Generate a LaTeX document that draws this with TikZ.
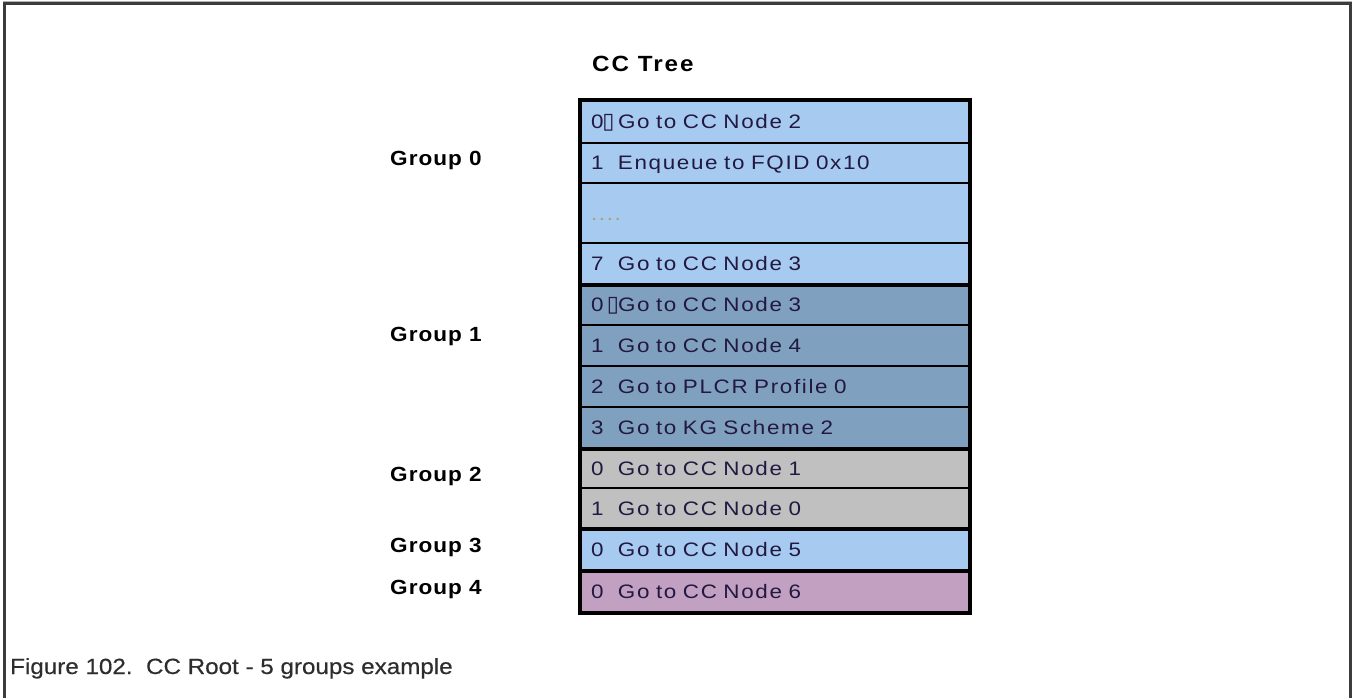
\documentclass[tikz,border=0pt]{standalone}
\usepackage{fontspec}
\setmainfont{Liberation Sans}
\newfontfamily\cellfont[LetterSpace=8.5,FakeStretch=1.15]{Liberation Sans}
\newfontfamily\grpfont[LetterSpace=5,FakeStretch=1.1]{Liberation Sans}
\newfontfamily\titfont[LetterSpace=9,FakeStretch=1.1]{Liberation Sans}
\newfontfamily\capfont[FakeStretch=1.1,FakeBold=0.4]{Liberation Sans}
\newfontfamily\symfont{DejaVu Sans}
\definecolor{lblue}{RGB}{166,202,240}
\definecolor{dblue}{RGB}{128,160,192}
\definecolor{lgray}{RGB}{192,192,192}
\definecolor{mauve}{RGB}{194,160,194}
\definecolor{txt}{RGB}{34,24,64}
\definecolor{frame}{RGB}{60,60,60}
\definecolor{capt}{RGB}{45,45,45}
\definecolor{dots}{RGB}{170,160,120}
\newcommand{\ent}[2]{\makebox[27pt][l]{#1}#2}
\newcommand{\miss}{{\symfont\fontsize{22}{22}\selectfont ▯}}
\begin{document}
\begin{tikzpicture}[x=1pt,y=-1pt,
  cell/.style={draw=black, line width=2, minimum width=388, inner xsep=10, inner ysep=0,
    text width=368, align=left, text height=14, text depth=0, text=txt,
    font=\cellfont\fontsize{19.5}{19.5}\selectfont},
  grp/.style={anchor=base west, inner sep=0, text=black, font=\grpfont\bfseries\fontsize{20.5}{20.5}\selectfont},
  outer/.style={draw=black, line width=4},
  gsep/.style={draw=black, line width=3}]
\useasboundingbox (0,0) rectangle (1352,698);
% frame
\draw[frame, line width=3] (4.5,698) -- (4.5,4) -- (1350.5,4) -- (1350.5,698);
\draw[gray!60, line width=1] (3,2) -- (1352,2);
% title
\node[anchor=base west, inner sep=0, font=\titfont\bfseries\fontsize{22}{22}\selectfont] (title) at (592,72) {CC Tree};
% cells
\node[cell, fill=lblue, minimum height=42] (r1) at (775,122) {\ent{0\kern-1pt\miss}{Go to CC Node 2}};
\node[cell, fill=lblue, minimum height=40] (r2) at (775,163) {\ent{1}{Enqueue to FQID 0x10}};
\node[cell, fill=lblue, minimum height=60] (r3) at (775,213) {\textcolor{dots}{....}};
\node[cell, fill=lblue, minimum height=41] (r4) at (775,263.5) {\ent{7}{Go to CC Node 3}};
\node[cell, fill=dblue, minimum height=41] (r5) at (775,304.5) {\ent{0\kern3.5pt\miss}{Go to CC Node 3}};
\node[cell, fill=dblue, minimum height=41] (r6) at (775,345.5) {\ent{1}{Go to CC Node 4}};
\node[cell, fill=dblue, minimum height=41] (r7) at (775,386.5) {\ent{2}{Go to PLCR Profile 0}};
\node[cell, fill=dblue, minimum height=41] (r8) at (775,427.5) {\ent{3}{Go to KG Scheme 2}};
\node[cell, fill=lgray, minimum height=40] (r9) at (775,468) {\ent{0}{Go to CC Node 1}};
\node[cell, fill=lgray, minimum height=40] (r10) at (775,508) {\ent{1}{Go to CC Node 0}};
\node[cell, fill=lblue, minimum height=42] (r11) at (775,549) {\ent{0}{Go to CC Node 5}};
\node[cell, fill=mauve, minimum height=42] (r12) at (775,591) {\ent{0}{Go to CC Node 6}};
% group separators and outline
\draw[gsep] (r4.south west) -- (r4.south east);
\draw[gsep] (r8.south west) -- (r8.south east);
\draw[gsep] (r10.south west) -- (r10.south east);
\draw[gsep] (r11.south west) -- (r11.south east);
\draw[outer] (r1.north west) rectangle (r12.south east);
% group labels
\node[grp] (g0) at (390,165) {Group 0};
\node[grp] (g1) at (390,341) {Group 1};
\node[grp] (g2) at (390,481) {Group 2};
\node[grp] (g3) at (390,552) {Group 3};
\node[grp] (g4) at (390,594) {Group 4};
% caption
\node[anchor=base west, inner sep=0, text=capt, font=\capfont\fontsize{22}{22}\selectfont] (cap) at (10,674) {Figure 102.\ \ CC Root - 5 groups example};
\end{tikzpicture}
\end{document}
